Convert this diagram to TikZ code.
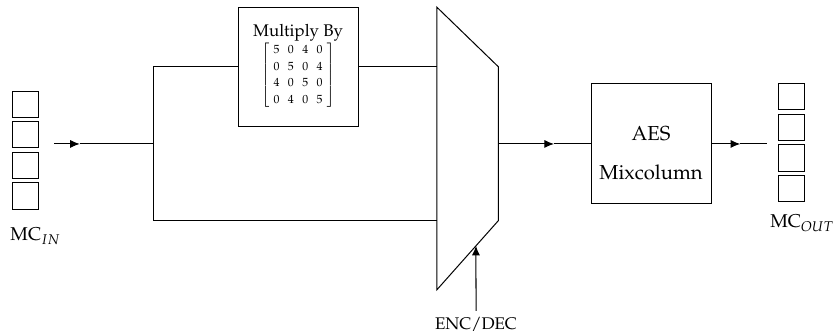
\documentclass[tikz,border=0pt]{standalone}
\usepackage[T1]{fontenc}
\usepackage{mathpazo}
\usepackage{amsmath}
\usepackage{tikz}
\usetikzlibrary{positioning,arrows.meta,calc}
\tikzset{
  cell/.style={draw,semithick,minimum size=0.55cm,inner sep=0pt},
  blockbox/.style={draw,semithick,minimum width=2.5cm,minimum height=2.48cm,align=center,inner sep=2pt},
  flow/.style={-{Latex[length=2mm,width=1.7mm]},semithick},
  wire/.style={semithick},
}

\begin{document}
\begin{tikzpicture}
  \useasboundingbox (0,0) rectangle (17.458,6.979);
  % input column
  \foreach \i in {1,...,4}
    \node[cell] (in\i) at (0.53,{4.808-0.637*(\i-1)}) {};
  \node[font=\fontsize{11}{13}\selectfont] (mcin) at (0.74,2.06) {MC$_{IN}$};
  \coordinate (instart) at (1.13,3.98);
  \coordinate (inarr) at (1.66,3.98);
  \coordinate (split) at (3.19,3.98);
  \draw[flow] (instart) -- (inarr);
  \draw[wire] (inarr) -- (split);
  % multiply box
  \node[blockbox] (mul) at (6.21,5.59) {Multiply By\\[-1pt]
    {\scriptsize\setlength{\arraycolsep}{2.5pt}\renewcommand{\arraystretch}{1.25}%
    $\left[\begin{array}{cccc} 5&0&4&0\\ 0&5&0&4\\ 4&0&5&0\\ 0&4&0&5 \end{array}\right]$}};
  % mux
  \coordinate (mtl) at (9.10,6.83);
  \coordinate (mbl) at (9.10,0.94);
  \coordinate (mtr) at (10.38,5.59);
  \coordinate (mbr) at (10.38,2.38);
  \draw[wire] (mtl) -- (mtr) -- (mbr) -- (mbl) -- cycle;
  \coordinate (muxa) at (9.10,5.59);
  \coordinate (muxb) at (9.10,2.39);
  \coordinate (muxout) at (10.38,3.98);
  \draw[wire] (split) |- (mul.west);
  \draw[wire] (mul.east) -- (muxa);
  \draw[wire] (split) |- (muxb);
  % select line
  \node (encdec) at (9.917,0.23) {ENC/DEC};
  \coordinate (sel) at ($(mbl)!0.637!(mbr)$);
  \draw[flow] (encdec.north) -- (sel);
  % mixcolumn
  \node[blockbox,minimum height=2.5cm] (aes) at (13.5625,3.98) {};
  \node[align=center,font=\large] (aestext) at ([yshift=-0.19cm]aes.center) {AES\\[0.32cm]Mixcolumn};
  \coordinate (muxarr) at (11.54,3.98);
  \draw[flow] (muxout) -- (muxarr);
  \draw[wire] (muxarr) -- (aes.west);
  % output column
  \coordinate (outarr) at (15.42,3.98);
  \coordinate (outend) at (15.97,3.98);
  \draw[flow] (aes.east) -- (outarr);
  \draw[wire] (outarr) -- (outend);
  \foreach \i in {1,...,4}
    \node[cell] (out\i) at (16.49,{4.965-0.637*(\i-1)}) {};
  \node[font=\fontsize{11}{13}\selectfont] (mcout) at (16.71,2.33) {MC$_{OUT}$};
\end{tikzpicture}
\end{document}
